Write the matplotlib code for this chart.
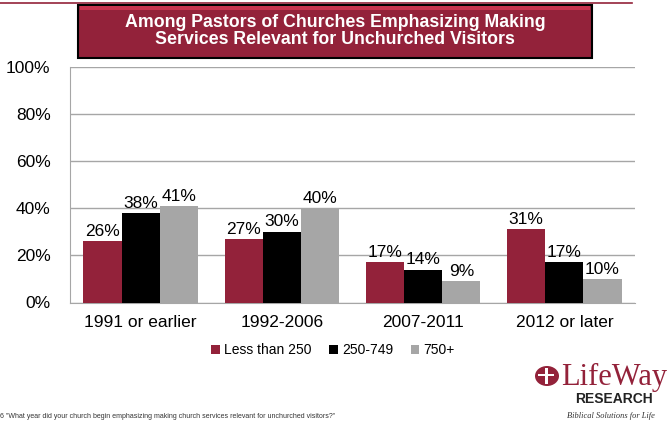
import numpy as np
import matplotlib.pyplot as plt
from matplotlib.patches import Rectangle, Ellipse

# данные по группам
categories = ['1991 or earlier', '1992-2006', '2007-2011', '2012 or later']
series = ['Less than 250', '250-749', '750+']
small = [26, 27, 17, 31]
medium = [38, 30, 14, 17]
large = [41, 40, 9, 10]
colors = ['#93223a', '#000000', '#a6a6a6']

fig = plt.figure(figsize=(6.68, 4.25), dpi=100)
W, H = 668, 425
ax = fig.add_axes([70 / W, 1 - 302.5 / H, 565 / W, 235.5 / H])

x = np.arange(len(categories))
width = 0.27
for i, (vals, col) in enumerate(zip([small, medium, large], colors)):
    pos = x + (i - 1) * width
    ax.bar(pos, vals, width, color=col, label=series[i], zorder=3)
    for p, v in zip(pos, vals):
        ax.text(p, v + 1, f'{v}%', ha='center', va='bottom', fontsize=12.5,
                family='Liberation Sans', zorder=4)

ax.set_ylim(0, 100)
ax.set_xlim(-0.5, 3.5)
ax.set_yticks(range(0, 101, 20))
ax.set_yticklabels([f'{t}%' for t in range(0, 101, 20)],
                   fontsize=12.5, family='Liberation Sans')
ax.set_xticks(x)
ax.set_xticklabels(categories, fontsize=12.5, family='Liberation Sans')
ax.tick_params(axis='y', length=0, pad=14)
ax.tick_params(axis='x', length=0, pad=9)
ax.grid(axis='y', color='#a6a6a6', linewidth=1, zorder=0)
for s in ['top', 'right']:
    ax.spines[s].set_visible(False)
ax.spines['left'].set_color('#a6a6a6')
ax.spines['bottom'].set_color('#a6a6a6')

leg = fig.legend(loc='center', bbox_to_anchor=(333 / W, 1 - 350 / H), ncol=3,
                 frameon=False, prop={'family': 'Liberation Sans', 'size': 10},
                 handlelength=0.6, handleheight=0.6, handletextpad=0.3,
                 columnspacing=1.3)

# линия сверху и заголовок в красной плашке
fig.add_artist(plt.Line2D([0, 632 / W], [1 - 3 / H, 1 - 3 / H],
                          color='#93223a', linewidth=1.2))
fig.add_artist(Rectangle((78 / W, 1 - 58 / H), 514 / W, 53 / H,
                         facecolor='#93223a', edgecolor='black', linewidth=1.5))
fig.add_artist(Rectangle((80 / W, 1 - 10 / H), 510 / W, 4 / H,
                         facecolor='#c8344f', edgecolor='none'))
fig.text(335 / W, 1 - 31 / H,
         'Among Pastors of Churches Emphasizing Making\nServices Relevant for Unchurched Visitors',
         ha='center', va='center', color='white', fontsize=12.8, fontweight='bold',
         family='Liberation Sans', linespacing=1.0)

# сноска
fig.text(0, 1 - 417 / H,
         '6 "What year did your church begin emphasizing making church services relevant for unchurched visitors?"',
         fontsize=5, family='Liberation Sans', va='center', color='#333333')

# логотип
fig.add_artist(Ellipse((547 / W, 1 - 376 / H), 24 / W, 20 / H,
                       facecolor='#93223a', edgecolor='none'))
fig.add_artist(Rectangle((545 / W, 1 - 384 / H), 3 / W, 16 / H,
                         facecolor='white', edgecolor='none'))
fig.add_artist(Rectangle((538 / W, 1 - 376 / H), 16 / W, 2.5 / H,
                         facecolor='white', edgecolor='none'))
fig.text(561 / W, 1 - 377 / H, 'LifeWay', ha='left', va='center',
         fontsize=22, family='Liberation Serif', color='#93223a')
fig.text(575 / W, 1 - 399 / H, 'RESEARCH', ha='left', va='center',
         fontsize=10, fontweight='bold', family='Liberation Sans', color='#222222')
fig.text(567 / W, 1 - 416 / H, 'Biblical Solutions for Life', ha='left', va='center',
         fontsize=6, style='italic', family='Liberation Serif', color='#333333')

fig.savefig('out.png', dpi=100)
